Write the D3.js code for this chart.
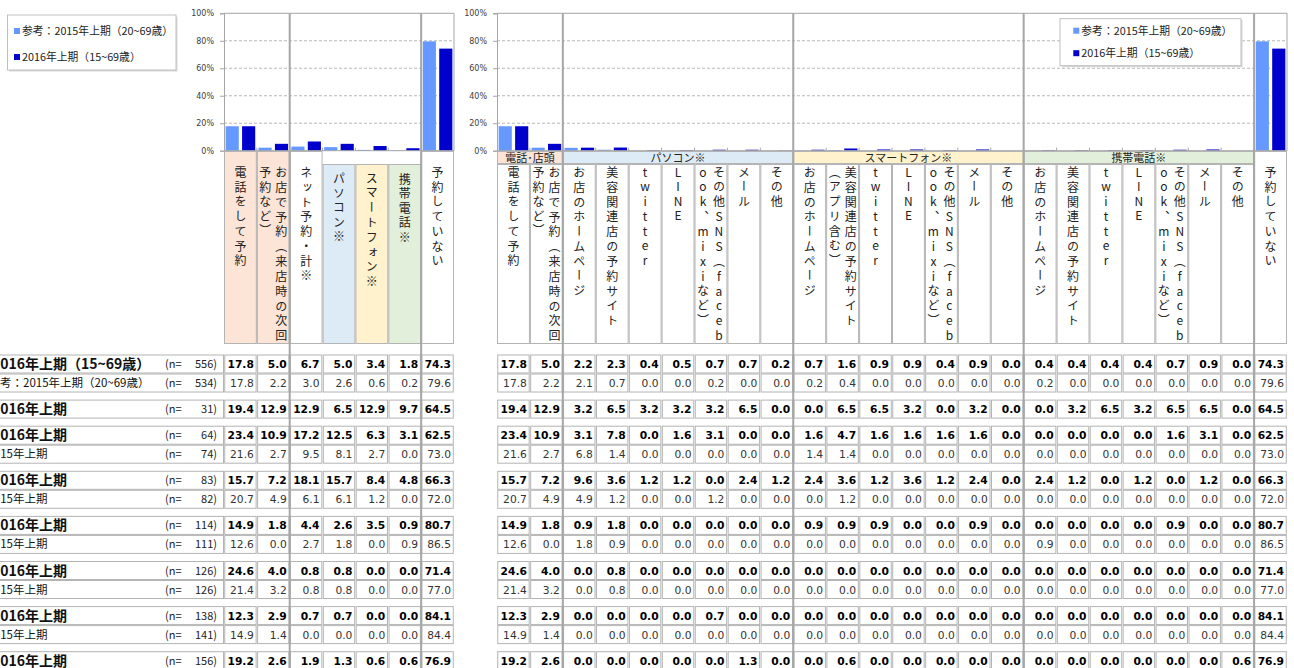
<!DOCTYPE html>
<html>
<head>
<meta charset="utf-8">
<script src="https://cdn.jsdelivr.net/npm/d3@7"></script>
<style>
  body { margin: 0; background: #fff; }
  svg { display: block; font-family: "DejaVu Sans", Verdana, sans-serif; }
  .jp { font-family: "Noto Sans CJK JP", "Noto Sans", sans-serif; }
  .vt { writing-mode: vertical-rl; text-orientation: upright; }
</style>
</head>
<body>
<svg id="chart" width="1294" height="668"></svg>
<script>
// ---- data ----
const seriesNames = ["参考：2015年上期（20~69歳）", "2016年上期（15~69歳）"];
const yTicks = [0, 20, 40, 60, 80, 100];

const leftCategories = ["電話をして予約", "お店で予約（来店時の次回予約など）", "ネット予約・計※",
  "パソコン※", "スマートフォン※", "携帯電話※", "予約していない"];

const rightGroups = ["電話･店頭", "パソコン※", "スマートフォン※", "携帯電話※", ""];
const rightGroupSizes = [2, 7, 7, 7, 1];
const rightCategories = [
  "電話をして予約", "お店で予約（来店時の次回予約など）",
  "お店のホームページ", "美容関連店の予約サイト", "twitter", "LINE", "その他SNS（facebook、mixiなど）", "メール", "その他",
  "お店のホームページ", "美容関連店の予約サイト（アプリ含む）", "twitter", "LINE", "その他SNS（facebook、mixiなど）", "メール", "その他",
  "お店のホームページ", "美容関連店の予約サイト", "twitter", "LINE", "その他SNS（facebook、mixiなど）", "メール", "その他",
  "予約していない"];

const rowLabels = ["2016年上期（15~69歳）", "参考：2015年上期（20~69歳）", "2016年上期", "2016年上期", "2015年上期",
  "2016年上期", "2015年上期", "2016年上期", "2015年上期", "2016年上期", "2015年上期", "2016年上期", "2015年上期", "2016年上期"];
const rowN = [556, 534, 31, 64, 74, 83, 82, 114, 111, 126, 126, 138, 141, 156];
const rowIs2016 = [true, false, true, true, false, true, false, true, false, true, false, true, false, true];
const rowGroupSizes = [2, 1, 2, 2, 2, 2, 2, 1];

const leftTable = [
  [17.8, 5.0, 6.7, 5.0, 3.4, 1.8, 74.3],
  [17.8, 2.2, 3.0, 2.6, 0.6, 0.2, 79.6],
  [19.4, 12.9, 12.9, 6.5, 12.9, 9.7, 64.5],
  [23.4, 10.9, 17.2, 12.5, 6.3, 3.1, 62.5],
  [21.6, 2.7, 9.5, 8.1, 2.7, 0.0, 73.0],
  [15.7, 7.2, 18.1, 15.7, 8.4, 4.8, 66.3],
  [20.7, 4.9, 6.1, 6.1, 1.2, 0.0, 72.0],
  [14.9, 1.8, 4.4, 2.6, 3.5, 0.9, 80.7],
  [12.6, 0.0, 2.7, 1.8, 0.0, 0.9, 86.5],
  [24.6, 4.0, 0.8, 0.8, 0.0, 0.0, 71.4],
  [21.4, 3.2, 0.8, 0.8, 0.0, 0.0, 77.0],
  [12.3, 2.9, 0.7, 0.7, 0.0, 0.0, 84.1],
  [14.9, 1.4, 0.0, 0.0, 0.0, 0.0, 84.4],
  [19.2, 2.6, 1.9, 1.3, 0.6, 0.6, 76.9]
];

const rightTable = [
  [17.8, 5.0, 2.2, 2.3, 0.4, 0.5, 0.7, 0.7, 0.2, 0.7, 1.6, 0.9, 0.9, 0.4, 0.9, 0.0, 0.4, 0.4, 0.4, 0.4, 0.7, 0.9, 0.0, 74.3],
  [17.8, 2.2, 2.1, 0.7, 0.0, 0.0, 0.2, 0.0, 0.0, 0.2, 0.4, 0.0, 0.0, 0.0, 0.0, 0.0, 0.2, 0.0, 0.0, 0.0, 0.0, 0.0, 0.0, 79.6],
  [19.4, 12.9, 3.2, 6.5, 3.2, 3.2, 3.2, 6.5, 0.0, 0.0, 6.5, 6.5, 3.2, 0.0, 3.2, 0.0, 0.0, 3.2, 6.5, 3.2, 6.5, 6.5, 0.0, 64.5],
  [23.4, 10.9, 3.1, 7.8, 0.0, 1.6, 3.1, 0.0, 0.0, 1.6, 4.7, 1.6, 1.6, 1.6, 1.6, 0.0, 0.0, 0.0, 0.0, 0.0, 1.6, 3.1, 0.0, 62.5],
  [21.6, 2.7, 6.8, 1.4, 0.0, 0.0, 0.0, 0.0, 0.0, 1.4, 1.4, 0.0, 0.0, 0.0, 0.0, 0.0, 0.0, 0.0, 0.0, 0.0, 0.0, 0.0, 0.0, 73.0],
  [15.7, 7.2, 9.6, 3.6, 1.2, 1.2, 0.0, 2.4, 1.2, 2.4, 3.6, 1.2, 3.6, 1.2, 2.4, 0.0, 2.4, 1.2, 0.0, 1.2, 0.0, 1.2, 0.0, 66.3],
  [20.7, 4.9, 4.9, 1.2, 0.0, 0.0, 1.2, 0.0, 0.0, 0.0, 1.2, 0.0, 0.0, 0.0, 0.0, 0.0, 0.0, 0.0, 0.0, 0.0, 0.0, 0.0, 0.0, 72.0],
  [14.9, 1.8, 0.9, 1.8, 0.0, 0.0, 0.0, 0.0, 0.0, 0.9, 0.9, 0.9, 0.0, 0.0, 0.9, 0.0, 0.0, 0.0, 0.0, 0.0, 0.9, 0.0, 0.0, 80.7],
  [12.6, 0.0, 1.8, 0.9, 0.0, 0.0, 0.0, 0.0, 0.0, 0.0, 0.0, 0.0, 0.0, 0.0, 0.0, 0.0, 0.9, 0.0, 0.0, 0.0, 0.0, 0.0, 0.0, 86.5],
  [24.6, 4.0, 0.0, 0.8, 0.0, 0.0, 0.0, 0.0, 0.0, 0.0, 0.0, 0.0, 0.0, 0.0, 0.0, 0.0, 0.0, 0.0, 0.0, 0.0, 0.0, 0.0, 0.0, 71.4],
  [21.4, 3.2, 0.0, 0.8, 0.0, 0.0, 0.0, 0.0, 0.0, 0.0, 0.0, 0.0, 0.0, 0.0, 0.0, 0.0, 0.0, 0.0, 0.0, 0.0, 0.0, 0.0, 0.0, 77.0],
  [12.3, 2.9, 0.0, 0.0, 0.0, 0.0, 0.7, 0.0, 0.0, 0.0, 0.0, 0.0, 0.0, 0.0, 0.0, 0.0, 0.0, 0.0, 0.0, 0.0, 0.0, 0.0, 0.0, 84.1],
  [14.9, 1.4, 0.0, 0.0, 0.0, 0.0, 0.0, 0.0, 0.0, 0.0, 0.0, 0.0, 0.0, 0.0, 0.0, 0.0, 0.0, 0.0, 0.0, 0.0, 0.0, 0.0, 0.0, 84.4],
  [19.2, 2.6, 0.0, 0.0, 0.0, 0.0, 0.0, 1.3, 0.0, 0.0, 0.6, 0.0, 0.0, 0.0, 0.0, 0.0, 0.0, 0.0, 0.0, 0.0, 0.0, 0.0, 0.6, 76.9]
];

// ---- style ----
const colors = ["#6699FF", "#0000CC"];   // 2015, 2016
const peach = "#FCE4D6", blue = "#DDEBF7", yellow = "#FFF2CC", green = "#E2EFDA";
const leftFills = [peach, peach, "#fff", blue, yellow, green, "#fff"];
const leftHasHeader = [false, false, false, true, true, true, false];
const rightGroupFills = [peach, blue, yellow, green, "#fff"];
const gridColor = "#A6A6A6", cellStroke = "#B4B4B4";

const svg = d3.select("#chart");
const yTop = 13.3, yZero = 150.7;
const headTop = 151, headBottom = 164, labelBottom = 344;
const rowH = 19, rowGap = 7.1, tableTop = 354.5;
const charPitch = 15, vFont = 12;

const y = d3.scaleLinear().domain([0, 100]).range([yZero, yTop]);

// row top positions
const rowY = [];
{
  let yy = tableTop;
  rowGroupSizes.forEach(g => {
    for (let k = 0; k < g; k++) { rowY.push(yy); yy += rowH; }
    yy += rowGap;
  });
}

// split a label into vertical lines of max 12 characters
function vLines(s) {
  const ch = [...s], out = [];
  let i = 0;
  while (i < ch.length) {
    let n = Math.min(12, ch.length - i);
    if (i + n < ch.length && ch[i + n - 1] === "（") n--;
    out.push(ch.slice(i, i + n).join(""));
    i += n;
  }
  return out;
}

// vertical text, first glyph top at `top`, fixed pitch per character
function vText(g, str, cx, top) {
  const n = [...str].length;
  const t = g.append("text").attr("class", "jp vt")
    .attr("x", cx).attr("y", top)
    .attr("font-size", vFont).attr("letter-spacing", charPitch - vFont).attr("fill", "#222")
    .text(str);
  const node = t.node();
  let bb = node.getBBox();
  if (bb.height > 0) {
    const ls = (charPitch - vFont) + (n * charPitch - (charPitch - vFont) / 2 - bb.height) / n;
    t.attr("letter-spacing", ls);
    bb = node.getBBox();
    t.attr("y", top + (top - bb.y));
  }
}

function drawPanel(p) {
  const n = p.cats.length;
  const x = d3.scaleBand().domain(d3.range(n)).range([p.x0, p.x1]);
  const bw = x.bandwidth();
  const xi = d3.scaleBand().domain([0, 1]).range([0, bw]).paddingInner(0.2).paddingOuter(0.1);
  const g = svg.append("g");

  // grid
  g.selectAll(".grid").data(yTicks.filter(t => t > 0 && t < 100)).join("line")
    .attr("x1", p.x0).attr("x2", p.x1).attr("y1", d => y(d)).attr("y2", d => y(d))
    .attr("stroke", gridColor).attr("stroke-dasharray", "3,2").attr("stroke-width", 0.8);
  g.append("line").attr("x1", p.x0).attr("x2", p.x1).attr("y1", y(100)).attr("y2", y(100))
    .attr("stroke", gridColor);
  g.append("line").attr("x1", p.x1).attr("x2", p.x1).attr("y1", y(100)).attr("y2", y(0))
    .attr("stroke", gridColor);

  // bars
  const s2015 = p.table[1], s2016 = p.table[0];
  [s2015, s2016].forEach((vals, si) => {
    g.selectAll(null).data(vals).join("rect")
      .attr("x", (d, i) => x(i) + xi(si))
      .attr("y", d => y(d))
      .attr("width", xi.bandwidth())
      .attr("height", d => y(0) - y(d))
      .attr("fill", colors[si]);
  });

  // axis
  const ax = g.append("g").attr("transform", `translate(${p.x0},0)`)
    .call(d3.axisLeft(y).tickValues(yTicks).tickFormat(d => d + "%").tickSize(4).tickPadding(6));
  ax.select(".domain").attr("stroke", gridColor);
  ax.selectAll(".tick line").attr("stroke", gridColor);
  ax.selectAll(".tick text").attr("fill", "#404040").style("font-size", "8px")
    .style("font-family", "DejaVu Sans, Verdana, sans-serif");
  g.append("line").attr("x1", p.x0).attr("x2", p.x1).attr("y1", y(0)).attr("y2", y(0))
    .attr("stroke", gridColor);
  g.selectAll(".ctick").data(d3.range(1, n)).join("line")
    .attr("x1", i => x(i)).attr("x2", i => x(i)).attr("y1", y(0) - 3).attr("y2", y(0))
    .attr("stroke", gridColor);

  // label cells
  p.cats.forEach((c, i) => {
    const top = p.cellTop[i];
    g.append("rect").attr("x", x(i) + 0.5).attr("y", top + 0.5).attr("width", bw - 1)
      .attr("height", labelBottom - top - 1).attr("fill", p.cellFill[i]).attr("stroke", cellStroke);
    const lines = vLines(c);
    const cx = x(i) + bw / 2;
    lines.forEach((ln, k) => {
      vText(g, ln, cx + ((lines.length - 1) / 2) * 16 - k * 16, p.textTop[i]);
    });
  });

  // header cells
  if (p.headers) {
    let start = 0;
    p.headers.forEach((h, hi) => {
      const size = p.headerSizes[hi];
      if (h) {
        const hx = x(start), hw = bw * size;
        g.append("rect").attr("x", hx + 0.5).attr("y", headTop + 0.5).attr("width", hw - 1)
          .attr("height", headBottom - headTop - 1).attr("fill", p.headerFills[hi]).attr("stroke", cellStroke);
        g.append("text").attr("class", "jp").attr("x", hx + hw / 2).attr("y", headBottom - 2.5)
          .attr("text-anchor", "middle").attr("font-size", 11).attr("fill", "#222").text(h);
      }
      start += size;
    });
  }

  // table
  p.table.forEach((row, r) => {
    row.forEach((v, c) => {
      g.append("rect").attr("x", x(c) + 0.75).attr("y", rowY[r] + 0.5).attr("width", bw - 1.5)
        .attr("height", rowH - 1).attr("fill", "#fff").attr("stroke", cellStroke);
      g.append("text").attr("x", x(c) + bw - 3).attr("y", rowY[r] + 13.5)
        .attr("text-anchor", "end").attr("font-size", 10.7)
        .attr("font-weight", rowIs2016[r] ? "bold" : "normal")
        .attr("fill", rowIs2016[r] ? "#000" : "#333")
        .text(v.toFixed(1));
    });
  });

  // group dividers
  g.selectAll(".div").data(p.dividers).join("line")
    .attr("x1", i => x(i)).attr("x2", i => x(i)).attr("y1", y(100)).attr("y2", 668)
    .attr("stroke", gridColor).attr("stroke-width", 2);
  return x;
}

// left panel
drawPanel({
  x0: 224, x1: 454, cats: leftCategories, table: leftTable,
  cellTop: leftHasHeader.map(h => h ? headBottom : headTop),
  cellFill: leftFills,
  textTop: leftHasHeader.map(h => h ? 172 : 166),
  dividers: [2, 6]
});

// right panel
const rightGroupStart = d3.cumsum([0, ...rightGroupSizes]);
drawPanel({
  x0: 497, x1: 1287, cats: rightCategories, table: rightTable,
  cellTop: rightCategories.map((c, i) => i === rightCategories.length - 1 ? headTop : headBottom),
  cellFill: rightCategories.map(() => "#fff"),
  textTop: rightCategories.map(() => 166),
  headers: rightGroups, headerSizes: rightGroupSizes, headerFills: rightGroupFills,
  dividers: rightGroupStart.slice(1, -1)
});

// row labels (left part of the labels runs past the page edge, as in the original)
const lab = svg.append("g");
rowLabels.forEach((t, r) => {
  lab.append("rect").attr("x", -2).attr("y", rowY[r] + 0.5).attr("width", 225.5)
    .attr("height", rowH - 1).attr("fill", "#fff").attr("stroke", cellStroke);
  const bold = rowIs2016[r];
  const fs = bold ? 14 : 11.5;
  const shift = r === 1 ? -11.5 : (bold ? -8 : -12.6);
  lab.append("text").attr("class", "jp").attr("x", shift).attr("y", rowY[r] + (bold ? 14.5 : 13.5))
    .attr("font-size", fs).attr("font-weight", bold ? "bold" : "normal").attr("fill", "#111").text(t);
  lab.append("text").attr("class", "jp").attr("x", 165).attr("y", rowY[r] + 13.5)
    .attr("font-size", 11).attr("fill", "#222").text("(n=");
  lab.append("text").attr("class", "jp").attr("x", 217).attr("y", rowY[r] + 13.5)
    .attr("text-anchor", "end").attr("font-size", 11).attr("fill", "#222").text(rowN[r] + ")");
});

// legends
function legend(lx, ly, w, h, inset, rows) {
  const g = svg.append("g");
  g.append("rect").attr("x", lx + 1.5).attr("y", ly + 1.5).attr("width", w).attr("height", h).attr("fill", "#D9D9D9");
  g.append("rect").attr("x", lx).attr("y", ly).attr("width", w).attr("height", h)
    .attr("fill", "#fff").attr("stroke", "#BFBFBF");
  seriesNames.forEach((s, i) => {
    g.append("rect").attr("x", lx + inset).attr("y", ly + rows[i] - 6).attr("width", 6).attr("height", 6).attr("fill", colors[i]);
    g.append("text").attr("class", "jp").attr("x", lx + inset + 8).attr("y", ly + rows[i] + 1)
      .attr("font-size", 10.8).attr("fill", "#222").text(s);
  });
}
legend(7.5, 15, 168.5, 55, 6.5, [19, 45]);
legend(1060, 18.7, 181, 47, 13.3, [15, 37.5]);
</script>
</body>
</html>
